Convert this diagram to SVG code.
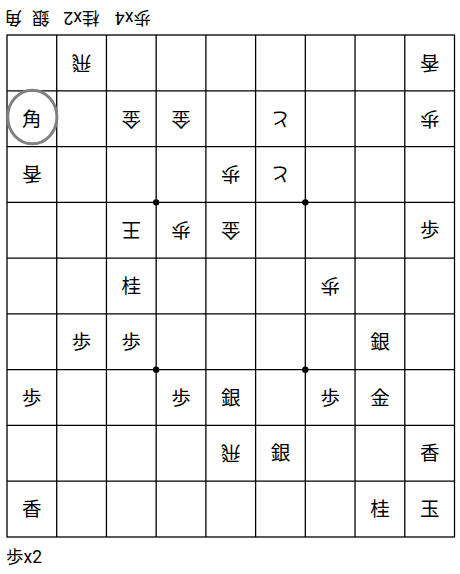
<svg xmlns="http://www.w3.org/2000/svg" width="460" height="574" viewBox="0 0 460 574">
<style>
.bg{fill:#ffffff}
.grid line{stroke:#000;stroke-width:1.3}
.frame{fill:none;stroke:#000;stroke-width:1.3}
.star{fill:#000}
.pc{font-family:"Noto Sans CJK JP","Noto Sans CJK SC",sans-serif;font-size:19.5px;fill:#000;text-anchor:middle;dominant-baseline:central}
.hand{font-family:Roboto,"Noto Sans CJK JP","Noto Sans CJK SC",sans-serif;font-size:17.5px;fill:#000}
.mark{fill:none;stroke:#808080;stroke-width:3}
</style>
<rect class="bg" x="0" y="0" width="460" height="574"/>
<g id="board">
<rect class="frame" x="7" y="35" width="447.5" height="502"/>
<g class="grid">
<line x1="56.72" y1="35" x2="56.72" y2="537"/>
<line x1="106.44" y1="35" x2="106.44" y2="537"/>
<line x1="156.17" y1="35" x2="156.17" y2="537"/>
<line x1="205.89" y1="35" x2="205.89" y2="537"/>
<line x1="255.61" y1="35" x2="255.61" y2="537"/>
<line x1="305.33" y1="35" x2="305.33" y2="537"/>
<line x1="355.06" y1="35" x2="355.06" y2="537"/>
<line x1="404.78" y1="35" x2="404.78" y2="537"/>
<line x1="7" y1="90.78" x2="454.5" y2="90.78"/>
<line x1="7" y1="146.56" x2="454.5" y2="146.56"/>
<line x1="7" y1="202.33" x2="454.5" y2="202.33"/>
<line x1="7" y1="258.11" x2="454.5" y2="258.11"/>
<line x1="7" y1="313.89" x2="454.5" y2="313.89"/>
<line x1="7" y1="369.67" x2="454.5" y2="369.67"/>
<line x1="7" y1="425.44" x2="454.5" y2="425.44"/>
<line x1="7" y1="481.22" x2="454.5" y2="481.22"/>
</g>
<circle class="star" cx="156.17" cy="202.33" r="3.2"/>
<circle class="star" cx="305.33" cy="202.33" r="3.2"/>
<circle class="star" cx="156.17" cy="369.67" r="3.2"/>
<circle class="star" cx="305.33" cy="369.67" r="3.2"/>
</g>
<ellipse id="highlight" class="mark" cx="32.3" cy="117" rx="24.6" ry="26.8"/>
<g id="pieces">
<g id="p-r0c1" transform="rotate(180 81.58 62.89)"><text class="pc" x="81.58" y="61.4">飛</text></g>
<g id="p-r0c8" transform="rotate(180 429.64 62.89)"><text class="pc" x="429.64" y="61.4">香</text></g>
<g id="p-r1c0"><text class="pc" x="31.86" y="117.2">角</text></g>
<g id="p-r1c2" transform="rotate(180 131.3 118.67)"><text class="pc" x="131.3" y="117.2">金</text></g>
<g id="p-r1c3" transform="rotate(180 181.03 118.67)"><text class="pc" x="181.03" y="117.2">金</text></g>
<g id="p-r1c5" transform="rotate(180 280.47 118.67)"><text class="pc" x="280.47" y="117.2">と</text></g>
<g id="p-r1c8" transform="rotate(180 429.64 118.67)"><text class="pc" x="429.64" y="117.2">歩</text></g>
<g id="p-r2c0" transform="rotate(180 31.86 174.45)"><text class="pc" x="31.86" y="173">香</text></g>
<g id="p-r2c4" transform="rotate(180 230.75 174.45)"><text class="pc" x="230.75" y="173">歩</text></g>
<g id="p-r2c5" transform="rotate(180 280.47 174.45)"><text class="pc" x="280.47" y="173">と</text></g>
<g id="p-r3c2" transform="rotate(180 131.3 230.22)"><text class="pc" x="131.3" y="228.7">王</text></g>
<g id="p-r3c3" transform="rotate(180 181.03 230.22)"><text class="pc" x="181.03" y="228.7">歩</text></g>
<g id="p-r3c4" transform="rotate(180 230.75 230.22)"><text class="pc" x="230.75" y="228.7">金</text></g>
<g id="p-r3c8"><text class="pc" x="429.64" y="228.7">歩</text></g>
<g id="p-r4c2"><text class="pc" x="131.3" y="284.5">桂</text></g>
<g id="p-r4c6" transform="rotate(180 330.19 286)"><text class="pc" x="330.19" y="284.5">歩</text></g>
<g id="p-r5c1"><text class="pc" x="81.58" y="340.3">歩</text></g>
<g id="p-r5c2"><text class="pc" x="131.3" y="340.3">歩</text></g>
<g id="p-r5c7"><text class="pc" x="379.92" y="340.3">銀</text></g>
<g id="p-r6c0"><text class="pc" x="31.86" y="396">歩</text></g>
<g id="p-r6c3"><text class="pc" x="181.03" y="396">歩</text></g>
<g id="p-r6c4"><text class="pc" x="230.75" y="396">銀</text></g>
<g id="p-r6c6"><text class="pc" x="330.19" y="396">歩</text></g>
<g id="p-r6c7"><text class="pc" x="379.92" y="396">金</text></g>
<g id="p-r7c4" transform="rotate(180 230.75 453.33)"><text class="pc" x="230.75" y="451.8">飛</text></g>
<g id="p-r7c5"><text class="pc" x="280.47" y="451.8">銀</text></g>
<g id="p-r7c8"><text class="pc" x="429.64" y="451.8">香</text></g>
<g id="p-r8c0"><text class="pc" x="31.86" y="507.6">香</text></g>
<g id="p-r8c7"><text class="pc" x="379.92" y="507.6">桂</text></g>
<g id="p-r8c8"><text class="pc" x="429.64" y="507.6">玉</text></g>
</g>
<g id="hand-top" transform="rotate(180 78.5 18)">
<text class="hand" y="24.5"><tspan x="6">歩x4</tspan><tspan x="57.5">桂x2</tspan><tspan x="107.5">銀</tspan><tspan x="135">角</tspan></text>
</g>
<g id="hand-bottom">
<text class="hand" x="6" y="563">歩x2</text>
</g>
</svg>
